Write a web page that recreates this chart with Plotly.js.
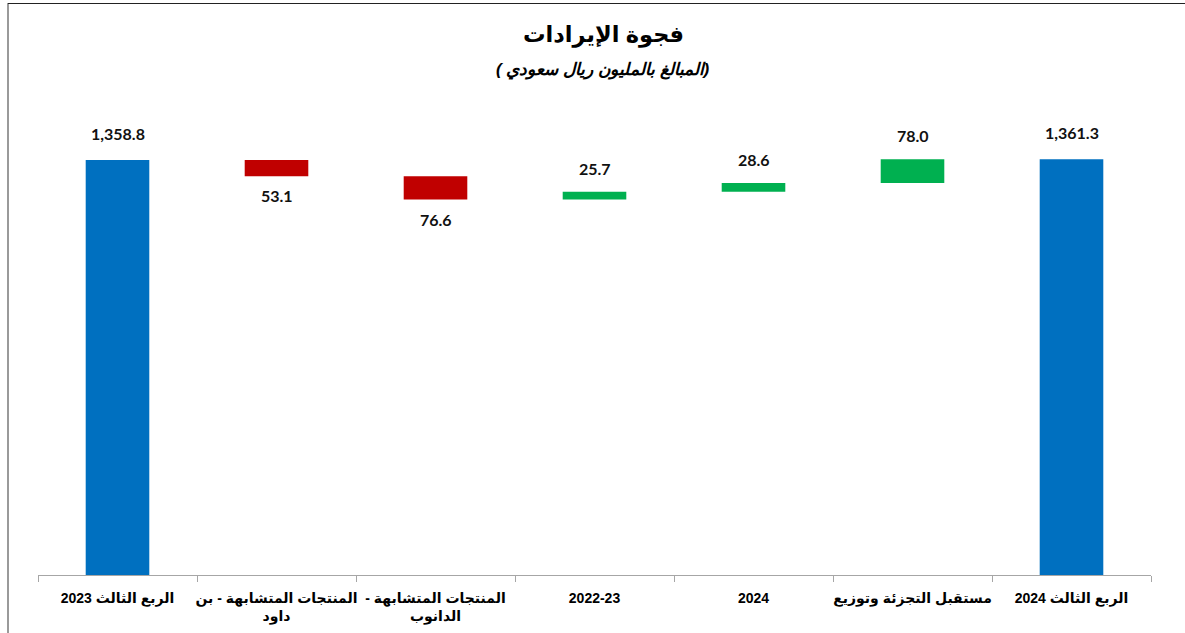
<!DOCTYPE html>
<html>
<head>
<meta charset="utf-8">
<script src="https://cdn.plot.ly/plotly-3.0.1.min.js"></script>
<style>
  html, body { margin: 0; padding: 0; background: #fff; }
  #wrap { position: relative; width: 1185px; height: 633px; overflow: hidden; }
  #chart { position: absolute; left: 0; top: 0; width: 1185px; height: 633px; }
  #bl { position: absolute; left: 7px; top: 3px; width: 2px; height: 640px; background: #9a9a9a; }
  #bt { position: absolute; left: 8px; top: 3px; width: 1200px; height: 1px; background: #222; }
</style>
</head>
<body>
<div id="wrap">
  <div id="chart"></div>
  <div id="bl"></div>
  <div id="bt"></div>
</div>
<script>
// ---- data ----
const RLM = "\u200F";
const categories = [
  "الربع الثالث 2023",
  RLM + "المنتجات المتشابهة - بن" + RLM + "<br>داود",
  RLM + "المنتجات المتشابهة -" + RLM + "<br>الدانوب",
  "2022-23",
  "2024",
  "مستقبل التجزئة وتوزيع",
  "الربع الثالث 2024"
];
const values = [1358.8, -53.1, -76.6, 25.7, 28.6, 78.0, 1361.3];
const measures = ["absolute", "relative", "relative", "relative", "relative", "relative", "absolute"];
const labels = ["1,358.8", "53.1", "76.6", "25.7", "28.6", "78.0", "1,361.3"];

const titleText = "فجوة الإيرادات";
const subtitleText = RLM + "(المبالغ بالمليون ريال سعودي )" + RLM;

// ---- build ----
const BLUE = "#0070C0", RED = "#C00000", GREEN = "#00B050";

const trace = {
  type: "waterfall",
  x: categories,
  y: values,
  measure: measures,
  textposition: "none",
  hoverinfo: "skip",
  connector: { visible: false },
  increasing: { marker: { color: GREEN } },
  decreasing: { marker: { color: RED } },
  totals: { marker: { color: BLUE } }
};

// label annotations from cumulative levels (x by category index)
const annotations = [];
let level = 0;
for (let i = 0; i < values.length; i++) {
  let top, bottom, up;
  if (measures[i] === "absolute") {
    bottom = 0; top = values[i]; level = values[i]; up = true;
  } else {
    const start = level;
    level = level + values[i];
    top = Math.max(start, level);
    bottom = Math.min(start, level);
    up = values[i] >= 0;
  }
  annotations.push({
    x: i,
    y: up ? top : bottom,
    xref: "x", yref: "y",
    text: labels[i],
    showarrow: false,
    yanchor: up ? "bottom" : "top",
    yshift: up ? (measures[i] === "absolute" ? 15 : 12) : -8,
    font: { family: "Lato, 'Open Sans', sans-serif", size: 16, color: "#111", weight: "bold" }
  });
}

annotations.push({
  xref: "paper", yref: "paper",
  x: 0.508, y: 1, yanchor: "bottom", yshift: 50,
  text: titleText, showarrow: false,
  font: { family: "'Liberation Sans', 'DejaVu Sans', sans-serif", size: 22.5, color: "#000", weight: "bold" }
});
annotations.push({
  xref: "paper", yref: "paper",
  x: 0.508, y: 1, yanchor: "bottom", yshift: 18,
  text: subtitleText, showarrow: false,
  font: { family: "'Liberation Sans', 'DejaVu Sans', sans-serif", size: 17, color: "#000", weight: "bold", style: "italic" }
});

const layout = {
  width: 1185, height: 633,
  margin: { l: 38, r: 34, t: 100, b: 58 },
  paper_bgcolor: "#fff", plot_bgcolor: "#fff",
  showlegend: false,
  waterfallgap: 0.6,
  xaxis: {
    type: "category",
    range: [-0.5, categories.length - 0.5],
    autorange: false,
    showline: true, linecolor: "#a6a6a6", linewidth: 1,
    ticks: "outside", tickson: "boundaries", ticklen: 6, tickcolor: "#a6a6a6", tickwidth: 1,
    tickangle: 0,
    ticklabelstandoff: 10,
    showgrid: false, zeroline: false,
    tickfont: { family: "'Liberation Sans', 'DejaVu Sans', sans-serif", size: 14, color: "#000", weight: "bold" },
    fixedrange: true
  },
  yaxis: { visible: false, range: [0, 1555], autorange: false, fixedrange: true },
  annotations: annotations
};

Plotly.newPlot("chart", [trace], layout, { displayModeBar: false, staticPlot: true });
</script>
</body>
</html>
